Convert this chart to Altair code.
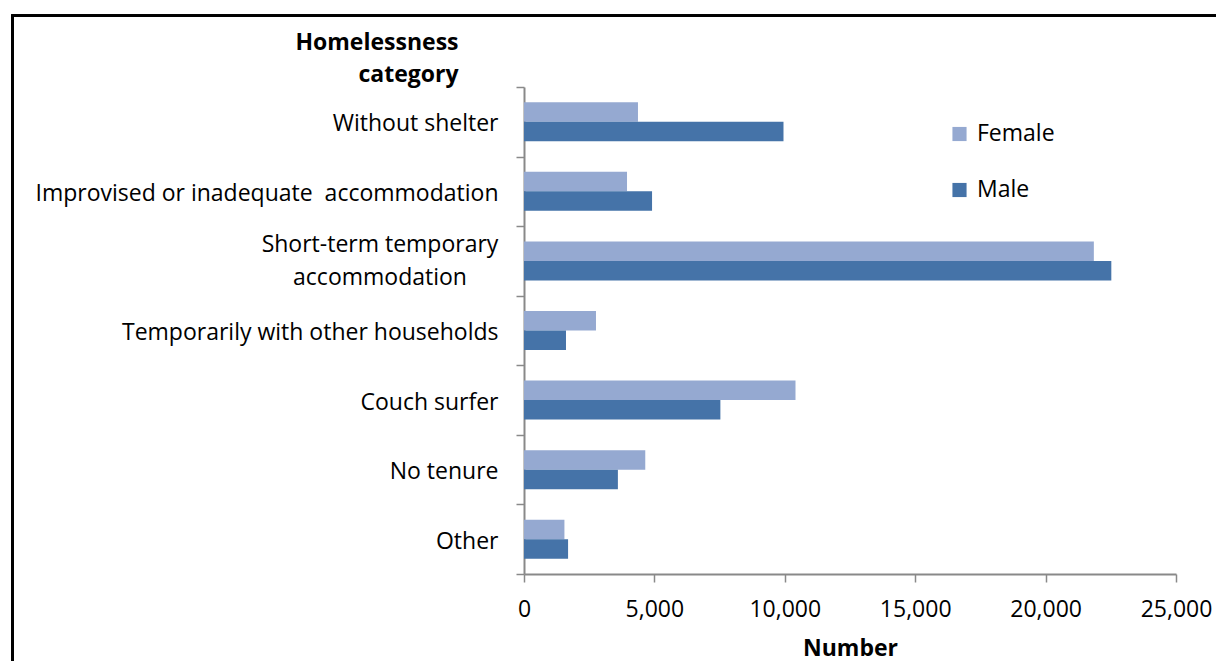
import altair as alt
import pandas as pd

# ---- data ----
categories = [
    "Without shelter",
    "Improvised or inadequate \u00a0accommodation",
    "Short-term temporary\naccommodation",
    "Temporarily with other households",
    "Couch surfer",
    "No tenure",
    "Other",
]
female = [4370, 3950, 21850, 2760, 10410, 4650, 1550]
male = [9950, 4910, 22520, 1610, 7530, 3600, 1690]
sexes = ["Female", "Male"]
colors = ["#95A9D1", "#4573A8"]
x_ticks = [0, 5000, 10000, 15000, 20000, 25000]

rows = []
for c, f, m in zip(categories, female, male):
    rows.append({"category": c, "sex": "Female", "value": f})
    rows.append({"category": c, "sex": "Male", "value": m})
df = pd.DataFrame(rows)

FONT = "Open Sans"
FS = 23
GREY = "#898989"

y_enc = alt.Y(
    "category:N",
    sort=categories,
    scale=alt.Scale(paddingInner=0, paddingOuter=0),
    axis=alt.Axis(
        title=["Homelessness", "category"],
        titleAngle=0, titleAlign="right", titleBaseline="alphabetic",
        titleX=-66, titleY=-38, titleLineHeight=32.5,
        tickBand="extent", grid=False,
        labelExpr="indexof(datum.label, '\\n') >= 0 ? '' : datum.label",
        labelPadding=18, tickSize=8, labelLimit=700, labelOffset=2,
    ),
)

bars = alt.Chart(df).mark_bar(strokeWidth=0).encode(
    x=alt.X(
        "value:Q",
        scale=alt.Scale(domain=[0, 25000], nice=False, zero=True),
        axis=alt.Axis(
            values=x_ticks, format=",d", title="Number", grid=False,
            tickSize=8, labelPadding=16, titleY=63, labelFlush=False,
        ),
    ),
    y=y_enc,
    yOffset=alt.YOffset(
        "sex:N", sort=sexes,
        scale=alt.Scale(domain=sexes, paddingInner=0, paddingOuter=0.785),
    ),
    color=alt.Color(
        "sex:N",
        scale=alt.Scale(domain=sexes, range=colors),
        legend=alt.Legend(
            title=None, orient="none", legendX=424, legendY=35.5,
            symbolType="square", symbolSize=200, symbolStrokeWidth=0,
            labelFont=FONT, labelFontSize=FS, labelColor="black",
            rowPadding=32, labelOffset=6, padding=0,
        ),
    ),
)

# two-line category label, centred like the reference
two_line = alt.Chart(df).transform_filter(
    "indexof(datum.category, '\\n') >= 0 && datum.sex == 'Female'"
).mark_text(
    align="center", baseline="alphabetic", lineBreak="\n", lineHeight=33,
    font=FONT, fontSize=FS, color="black", dy=-9,
).encode(
    y=alt.Y("category:N", sort=categories),
    x=alt.value(-144),
    text="category:N",
)

frame = alt.Chart(df).mark_rect(fill="transparent", stroke="black", strokeWidth=2).encode(
    x=alt.value(-511.7), x2=alt.value(720), y=alt.value(-71.3), y2=alt.value(700)
)

chart = alt.layer(frame, bars, two_line).properties(
    width=652,
    height=487,
    autosize=alt.AutoSizeParams(type="none"),
    padding={"left": 516, "top": 79, "right": 40, "bottom": 95},
).configure_axis(
    labelFont=FONT, titleFont=FONT, labelFontSize=FS, titleFontSize=FS,
    labelColor="black", titleColor="black", titleFontWeight="bold",
    domainColor=GREY, tickColor=GREY, domainWidth=2, tickWidth=1.5,
).configure_view(strokeWidth=0)

chart.save("out.html", embed_options={"renderer": "svg", "actions": False})
